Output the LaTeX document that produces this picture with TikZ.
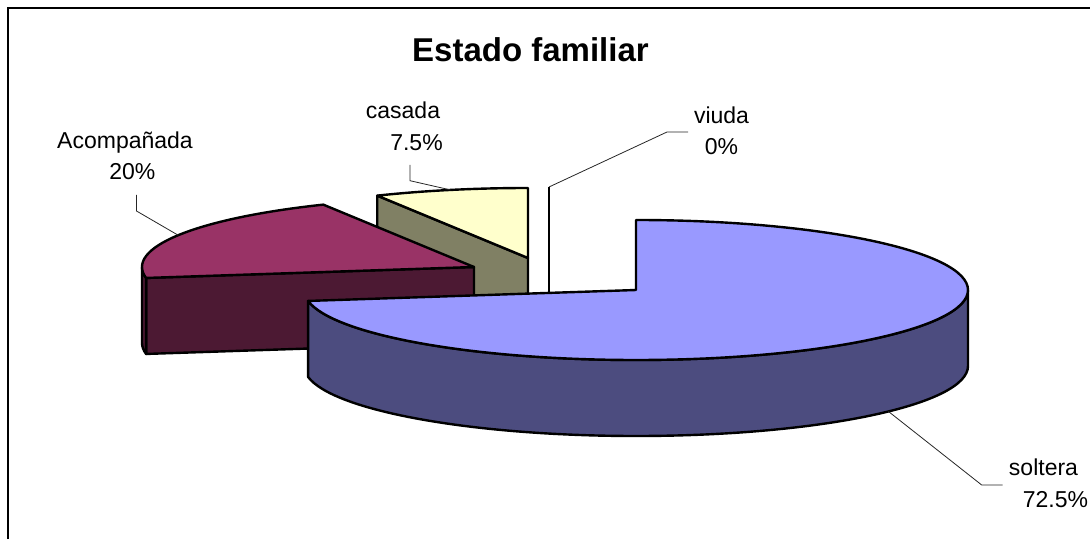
\documentclass[tikz,border=0pt]{standalone}
\usepackage{fontspec}
\setmainfont{Liberation Sans}
\usetikzlibrary{calc,positioning}
\definecolor{solTop}{HTML}{9999FF}
\definecolor{solSide}{HTML}{4C4C7F}
\definecolor{acoTop}{HTML}{993366}
\definecolor{acoSide}{HTML}{4C1933}
\definecolor{casTop}{HTML}{FFFFCC}
\definecolor{casSide}{HTML}{808064}
\tikzset{
    %Define style for slice outlines
    rim/.style={
           draw=black,
           line width=2.4pt,
           line join=round},
    %Define the ellipse of the pie
    pie/.style={
           x radius=332,
           y radius=70},
    %Define style for the chart title
    ttl/.style={
           anchor=base,
           font=\fontsize{33}{38}\selectfont\bfseries},
    %Define style for slice labels
    lbl/.style={
           anchor=base,
           inner sep=1pt,
           font=\fontsize{23}{27}\selectfont},
    % Define leader line style
    leader/.style={
           draw=black!85,
           line width=0.8pt}
}
\begin{document}
\begin{tikzpicture}[x=1pt, y=1pt]
    \useasboundingbox (0,0) rectangle (1090,539);
    \draw[line width=1.3pt] (8,0) -- (8,531) -- (1090,531);
    \node[ttl] (title) at (530.5,477.3) {Estado familiar};

    % slice centres (pie height is 76)
    \coordinate (cas) at (528,281);
    \coordinate (aco) at (474,272);
    \coordinate (viu) at (549,282);
    \coordinate (sol) at (636,249);

    % casada
    \filldraw[rim, fill=casSide] (cas) -- ++(117:332 and 70) -- ++(0,-76)
        -- ($(cas)+(0,-76)$) -- cycle;
    \filldraw[rim, fill=casTop] (cas) -- ++(90:332 and 70)
        arc[pie, start angle=90, end angle=117] -- cycle;

    % Acompanada
    \filldraw[rim, fill=acoSide] (aco) -- ++(189:332 and 70) -- ++(0,-76)
        -- ($(aco)+(0,-76)$) -- cycle;
    \filldraw[rim, fill=acoSide] ($(aco)+(180:332 and 70)$)
        arc[pie, start angle=180, end angle=189] -- ++(0,-76)
        arc[pie, start angle=189, end angle=180] -- cycle;
    \filldraw[rim, fill=acoTop] (aco) -- ++(117:332 and 70)
        arc[pie, start angle=117, end angle=189] -- cycle;

    % viuda (0%)
    \draw[rim] ($(viu)+(90:332 and 70)$) -- ($(viu)+(0,-76)$);

    % soltera
    \filldraw[rim, fill=solSide] ($(sol)+(189:332 and 70)$)
        arc[pie, start angle=189, end angle=360] -- ++(0,-76)
        arc[pie, start angle=360, end angle=189] -- cycle;
    \filldraw[rim, fill=solTop] (sol) -- ++(90:332 and 70)
        arc[pie, start angle=90, end angle=-171] -- cycle;

    % labels
    \node[lbl] (acoName) at (125,390.7) {Acompañada};
    \node[lbl] (acoPct) at (132.3,359) {20\%};
    \node[lbl] (casName) at (403,420.7) {casada};
    \node[lbl] (casPct) at (416.5,388) {7.5\%};
    \node[lbl] (viuName) at (721.5,415.7) {viuda};
    \node[lbl] (viuPct) at (721.5,384) {0\%};
    \node[lbl] (solName) at (1043.5,63.3) {soltera};
    \node[lbl] (solPct) at (1055.5,31.3) {72.5\%};

    % leader lines
    \coordinate (acoTip) at ($(aco)+(153:332 and 70)$);
    \coordinate (casTip) at ($(cas)+(103.5:332 and 70)$);
    \coordinate (viuTip) at ($(viu)+(90:332 and 70)$);
    \coordinate (solTip) at ($(sol)+(-40.5:332 and 70)+(0,-76)$);
    \draw[leader] ([shift={(4.2,-15)}]acoPct.base) -- ++(0,-16) -- (acoTip);
    \draw[leader] ([shift={(-6.5,-14)}]casPct.base) -- ++(0,-15.7) -- (casTip);
    \draw[leader] ([shift={(-33.5,-8.7)}]viuName.base) -- ++(-21,0) -- (viuTip);
    \draw[leader] ([shift={(-40.8,-9.3)}]solName.base) -- ++(-21,0) -- (solTip);
\end{tikzpicture}
\end{document}
